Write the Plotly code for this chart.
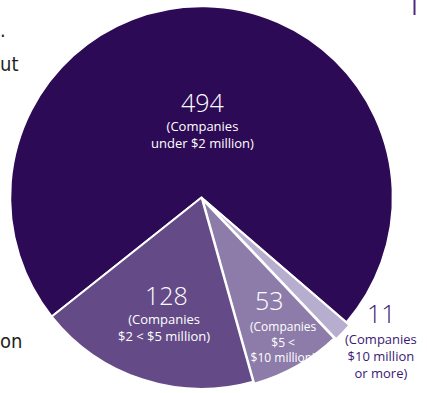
import plotly.graph_objects as go

W, H = 427, 393

# Data (clockwise order starting at the large slice)
labels = ["Companies under $2 million", "Companies $10 million or more",
          "Companies $5 < $10 million", "Companies $2 < $5 million"]
values = [494, 11, 53, 128]
colors = ["#2D0A55", "#B7ADCE", "#8D7CA9", "#644B87"]
pulls = [0, 0.022, 0.012, 0]
descs = ["(Companies<br>under $2 million)",
         "(Companies<br>$10 million<br>or more)",
         "(Companies<br>$5 &lt;<br>$10 million)",
         "(Companies<br>$2 &lt; $5 million)"]

FONT = "Open Sans"

fig = go.Figure(go.Pie(
    labels=labels, values=values, sort=False, direction="clockwise",
    rotation=231.5, pull=pulls, textinfo="none", hoverinfo="label+value",
    marker=dict(colors=colors, line=dict(color="white", width=2)),
    domain=dict(x=[0.0, 0.9438], y=[0.0, 0.995]), showlegend=False,
))

def px(x, y):
    return x / W, 1 - y / H

annotations = []
def add(text, x, y, size, color="white", xanchor="center", weight=400, family=FONT):
    ax, ay = px(x, y)
    annotations.append(dict(text=text, x=ax, y=ay, xref="paper", yref="paper",
                            showarrow=False, xanchor=xanchor, yanchor="middle",
                            borderpad=0,
                            font=dict(family=family, size=size, color=color,
                                      weight=weight)))

NUM = 25
dark = "#3A1874"
# 494
add(str(values[0]), 202, 102, NUM, weight=300)
add(descs[0], 202, 134, 13)
# 128
add(str(values[3]), 166, 295, NUM, weight=300)
add(descs[3], 164, 327.5, 13)
# 53
add(str(values[2]), 269, 300, NUM, weight=300)
add(descs[2], 283, 342, 12)
# 11
add(str(values[1]), 381, 313, NUM, dark, weight=300)
add(descs[1], 381, 355.5, 13, dark)

# cut-off page text fragments on the left
frag = "DejaVu Sans Condensed, Liberation Sans, sans-serif"
add(".", -1, 30, 20, "#231F20", "left", family=frag)
add("ut", -1, 64, 20, "#231F20", "left", family=frag)
add("on", -1, 341, 20, "#231F20", "left", family=frag)

fig.update_layout(
    width=W, height=H, margin=dict(l=0, r=0, t=0, b=0),
    paper_bgcolor="white", plot_bgcolor="white",
    annotations=annotations,
    shapes=[dict(type="line", xref="paper", yref="paper",
                 x0=414.5 / W, x1=414.5 / W, y0=1, y1=1 - 15 / H,
                 line=dict(color="#4B2A80", width=2))],
)

fig.write_html("out.html")
